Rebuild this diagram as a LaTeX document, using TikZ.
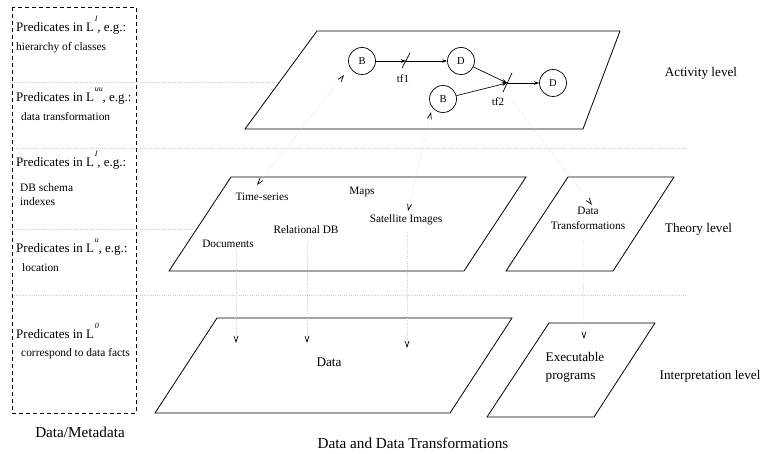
\documentclass[tikz,border=0pt]{standalone}
\usepackage{fontspec}
\setmainfont{Liberation Serif}
\usetikzlibrary{arrows.meta}
\newcommand{\suptxt}[1]{\raisebox{10pt}{\kern0.8pt\fontsize{8}{8}\selectfont\itshape #1}\kern-0.3pt}
\begin{document}
\begin{tikzpicture}[x=1pt,y=-1pt,
  plane/.style={draw=black, fill=white, line width=0.8pt, line join=miter},
  sep/.style={draw=black!20, dash pattern=on 0.6pt off 1.6pt, line width=0.6pt},
  link/.style={draw=black!18, dash pattern=on 0.6pt off 1.6pt, line width=0.6pt},
  barb/.tip={Straight Barb[length=6pt,width=4pt,color=black,line width=0.7pt]},
  act/.style={-{Stealth[length=5pt,width=3.5pt]}, line width=0.7pt},
  circ/.style={circle, draw, line width=0.7pt, minimum size=27pt, inner sep=0pt, font=\fontsize{10.5}{12}\selectfont},
  lbl/.style={font=\fontsize{11}{13}\selectfont, inner sep=1pt},
  txt/.style={font=\fontsize{11.3}{15}\selectfont, inner sep=1pt},
  big/.style={font=\fontsize{13.2}{18}\selectfont, inner sep=1pt},
  captxt/.style={font=\fontsize{15.2}{18}\selectfont, inner sep=1pt},
  pred/.style={anchor=base west, font=\fontsize{13}{15}\selectfont, inner sep=0pt},
  predsub/.style={anchor=base west, font=\fontsize{11.4}{13}\selectfont, inner sep=0pt}
]
\useasboundingbox (0,0) rectangle (760,454);

% separator dotted lines
\draw[sep] (12,82) -- (280,82);
\draw[sep] (12,148) -- (687,148);
\draw[sep] (12,229) -- (197,229);
\draw[sep] (12,295) -- (687,295);

% left dashed box
\draw[dashed, dash pattern=on 4pt off 3pt, line width=0.8pt] (12,7) rectangle (136,413);

\node[pred] (p1) at (16,32) {Predicates in L\suptxt{I}, e.g.:};
\node[predsub] (p1s) at (16,50.5) {hierarchy of classes};
\node[pred] (p2) at (16,102) {Predicates in L\suptxt{uu}, e.g.:};
\node[predsub] (p2s) at (21,120.5) {data transformation};
\node[pred] (p3) at (16,167) {Predicates in L\suptxt{I}, e.g.:};
\node[predsub] (p3s) at (20,191.5) {DB schema};
\node[predsub] (p3t) at (20,205.5) {indexes};
\node[pred] (p4) at (16,253) {Predicates in L\suptxt{u}, e.g.:};
\node[predsub] (p4s) at (22,271.5) {location};
\node[pred] (p5) at (16,338) {Predicates in L\suptxt{0}};
\node[predsub] (p5s) at (21,356.5) {correspond to data facts};

% planes
\draw[plane] (317,31) -- (620,31) -- (583,129) -- (245,129) -- cycle;
\draw[plane] (231,177) -- (526,177) -- (464,271) -- (169,271) -- cycle;
\draw[plane] (568,177) -- (674,177) -- (613,271) -- (506,271) -- cycle;
\draw[plane] (217,318) -- (512,318) -- (450,413) -- (155,413) -- cycle;
\draw[plane] (549,323) -- (655,323) -- (594,417) -- (487,417) -- cycle;

% activity level
\node[circ] (B1) at (362,61) {B};
\node[circ] (D1) at (461,61) {D};
\node[circ] (B2) at (443,99) {B};
\node[circ] (D2) at (553,83) {D};
\coordinate (tf1) at (406,61);
\coordinate (tf2) at (507,83);
\draw[line width=0.7pt] ([shift={(-4,7)}]tf1) -- ([shift={(4,-8)}]tf1);
\draw[line width=0.7pt] ([shift={(-4,9)}]tf2) -- ([shift={(5,-10)}]tf2);
\node[lbl] (tf1l) at (403,79) {tf1};
\node[lbl] (tf2l) at (498,102) {tf2};
\draw[act] (B1) -- (tf1);
\draw[act] (tf1) -- (D1);
\draw[act] (D1) -- (tf2);
\draw[act] (B2) -- (tf2);
\draw[act] (tf2) -- (D2);

% theory level
\node[txt] (ts) at (262,197) {Time-series};
\node[txt] (maps) at (362,192) {Maps};
\node[txt] (sat) at (406,220) {Satellite Images};
\node[txt] (rdb) at (306,230) {Relational DB};
\node[txt] (doc) at (228,244) {Documents};
\node[txt, align=center] (dt) at (588,218.5) {Data\\Transformations};

% interpretation level
\node[big] (data) at (329,362) {Data};
\node[big, align=left] (exe) at (575,367) {Executable\\programs};

% level labels
\node[big] (actl) at (701,73) {Activity level};
\node[big] (thl) at (698.5,229) {Theory level};
\node[big] (intl) at (710,376) {Interpretation level};

% captions
\node[captxt] (dm) at (80,432) {Data/Metadata};
\node[captxt] (ddt) at (413,443) {Data and Data Transformations};

% dotted links
\coordinate (b1in) at (344,75);
\coordinate (tsin) at (257,185);
\coordinate (b2in) at (431,112);
\coordinate (satin) at (408,211);
\coordinate (tf2out) at (509,97);
\coordinate (dtin) at (592,205);
\coordinate (docout) at (236,251);
\coordinate (docin) at (236,343);
\coordinate (rdbout) at (307,243);
\coordinate (rdbin) at (307,343);
\coordinate (satout) at (407,232);
\coordinate (satdn) at (407,348);
\coordinate (dtout) at (583,240);
\coordinate (exein) at (584,339);
\draw[link, barb-barb] (b1in) -- (tsin);
\draw[link, barb-barb] (b2in) -- (satin);
\draw[link, -barb] (tf2out) -- (dtin);
\draw[link, -barb] (docout) -- (docin);
\draw[link, -barb] (rdbout) -- (rdbin);
\draw[link, -barb] (satout) -- (satdn);
\draw[link, -barb] (dtout) -- (exein);
\end{tikzpicture}
\end{document}
